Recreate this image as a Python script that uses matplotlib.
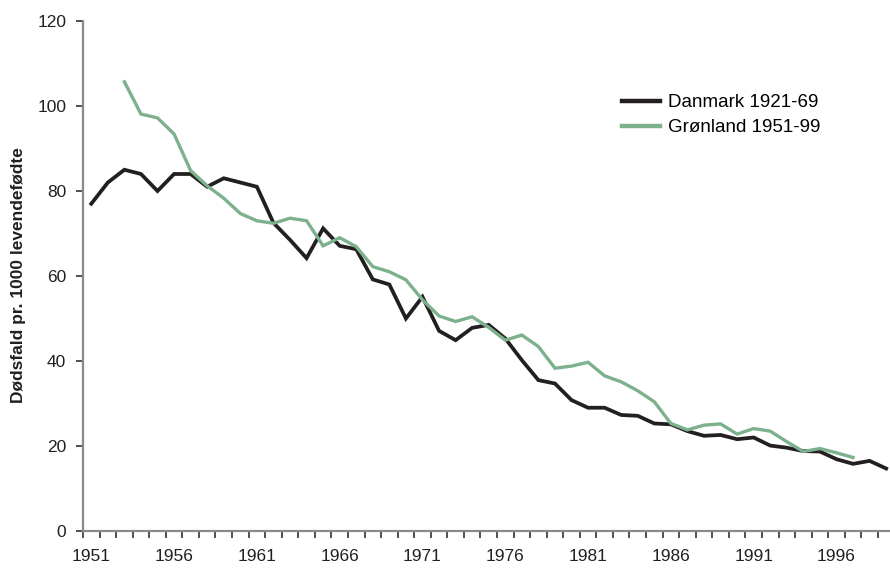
import matplotlib
matplotlib.use("Agg")
import matplotlib.pyplot as plt
from matplotlib.ticker import FixedLocator

# Data
years = list(range(1951, 2000))
danmark = [77, 82, 85, 84, 80, 84, 84, 81, 83, 82,
           81, 72.5, 68.5, 64.2, 71.2, 67.1, 66.3, 59.2, 58.0, 50.0,
           55.1, 47.1, 44.9, 47.8, 48.5, 45.3, 40.2, 35.5, 34.7, 30.8,
           29.0, 29.0, 27.3, 27.1, 25.3, 25.1, 23.5, 22.4, 22.6, 21.6,
           22.0, 20.1, 19.6, 18.8, 18.7, 16.9, 15.8, 16.5, 14.7]
gron_years = list(range(1953, 1998))
gronland = [105.7, 98.1, 97.2, 93.4, 84.8, 81.2, 78.3, 74.7, 73.0, 72.4,
            73.6, 73.0, 67.1, 69.0, 66.9, 62.2, 61.0, 59.1, 54.4, 50.6,
            49.3, 50.4, 47.9, 44.9, 46.1, 43.4, 38.3, 38.8, 39.7, 36.5,
            35.1, 33.0, 30.4, 25.3, 23.8, 24.9, 25.2, 22.8, 24.1, 23.5,
            21.0, 18.7, 19.4, 18.4, 17.3]
label_years = [1951, 1956, 1961, 1966, 1971, 1976, 1981, 1986, 1991, 1996]
yticks = [0, 20, 40, 60, 80, 100, 120]

plt.rcParams["font.family"] = ["Liberation Sans", "DejaVu Sans"]

fig = plt.figure(figsize=(8.9, 5.7), dpi=100)
ax = fig.add_axes([83 / 890, 1 - 531 / 570, 1 - 83 / 890, 510 / 570])

ax.plot(years, danmark, color="#231f20", lw=2.7, label="Danmark 1921-69",
        solid_joinstyle="miter")
ax.plot(gron_years, gronland, color="#7db18e", lw=2.4, label="Grønland 1951-99",
        solid_joinstyle="miter")

ax.set_xlim(1950.5, 1950.5 + 807 / 16.56)
ax.set_ylim(0, 120)

ax.set_xticks(label_years)
ax.set_xticklabels([str(y) for y in label_years])
ax.xaxis.set_minor_locator(FixedLocator([y - 0.5 for y in years] + [1999.5]))
ax.tick_params(axis="x", which="major", length=0, pad=13, labelsize=12.5,
               labelcolor="#231f20")
ax.tick_params(axis="x", which="minor", length=5, width=1.1, color="#231f20")

ax.set_yticks(yticks)
ax.tick_params(axis="y", length=5, width=1.1, color="#231f20", pad=7,
               labelsize=12.5, labelcolor="#231f20")

for s in ["top", "right"]:
    ax.spines[s].set_visible(False)
for s in ["left", "bottom"]:
    ax.spines[s].set_color("#8a8a8a")
    ax.spines[s].set_linewidth(1.6)

fig.text(19 / 890, 1 - 275 / 570, "Dødsfald pr. 1000 levendefødte",
         rotation=90, ha="center", va="center", fontsize=12.5,
         fontweight="bold", color="#231f20")

leg = ax.legend(loc="upper left", bbox_to_anchor=(622 / 890, 1 - 94 / 570),
                bbox_transform=fig.transFigure, frameon=False, fontsize=13.5,
                handlelength=2.0, handletextpad=0.43, borderpad=0,
                borderaxespad=0, labelspacing=0.42)
for h in leg.legend_handles:
    h.set_linewidth(3.2)

fig.savefig("out.png", dpi=100)
